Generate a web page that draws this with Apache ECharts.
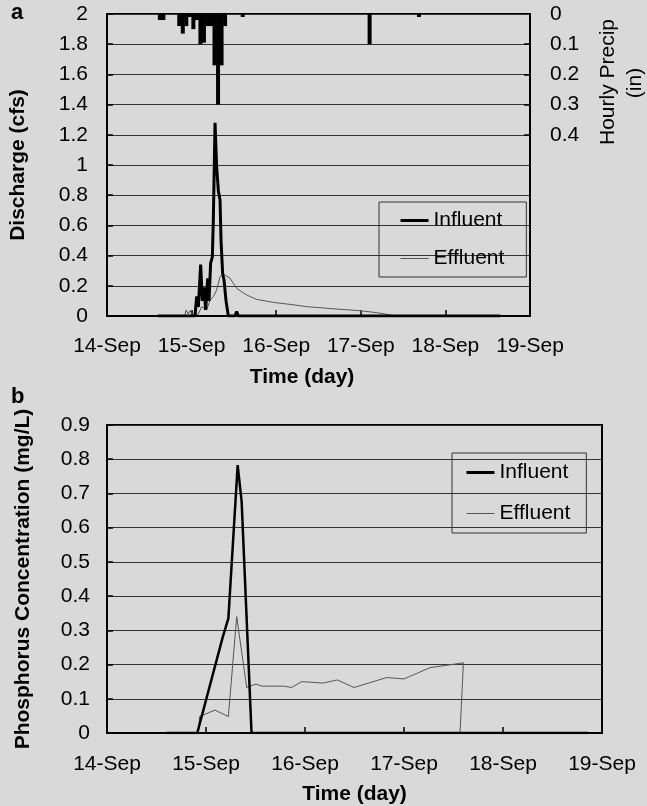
<!DOCTYPE html>
<html>
<head>
<meta charset="utf-8">
<script src="https://cdn.jsdelivr.net/npm/echarts@6/dist/echarts.min.js"></script>
<style>
  html, body { margin: 0; padding: 0; background: #d9d9d9; }
  #chart { width: 647px; height: 806px; }
</style>
</head>
<body>
<div id="chart"></div>
<script>
// x axis: days after 14-Sep 00:00
const dayLabels = ['14-Sep', '15-Sep', '16-Sep', '17-Sep', '18-Sep', '19-Sep'];

// hourly precipitation (hours after 14-Sep 00:00, inches)
const precipHour = [15, 16, 20.5, 21.5, 22.5, 23.5, 24.5, 25.5, 26.5, 27.5, 28.5, 29.5, 30.5, 31.5, 32.5, 33.5, 38.5, 74.5, 88.5];
const precipIn = [0.02, 0.02, 0.04, 0.065, 0.04, 0.01, 0.05, 0.02, 0.10, 0.095, 0.04, 0.04, 0.17, 0.30, 0.17, 0.04, 0.01, 0.10, 0.01];

// discharge [day, cfs]
const qInfluent = [
  [0.6, 0], [1.04, 0], [1.06, 0.13], [1.08, 0.06], [1.107, 0.34], [1.127, 0.1], [1.147, 0.19],
  [1.166, 0.04], [1.19, 0.25], [1.206, 0.1], [1.225, 0.35], [1.245, 0.39], [1.257, 0.64],
  [1.277, 1.28], [1.296, 0.99], [1.316, 0.83], [1.336, 0.77], [1.348, 0.5], [1.367, 0.28],
  [1.383, 0.24], [1.407, 0.1], [1.434, 0], [1.513, 0], [1.533, 0.03], [1.552, 0], [4.65, 0]
];
const qEffluent = [
  [0.6, 0], [0.92, 0], [0.934, 0.04], [0.961, 0.013], [0.981, 0.035], [1.013, 0.005], [1.08, 0.013],
  [1.119, 0.062], [1.178, 0.04], [1.218, 0.106], [1.257, 0.128], [1.296, 0.172], [1.336, 0.26],
  [1.375, 0.278], [1.454, 0.25], [1.533, 0.183], [1.651, 0.139], [1.769, 0.11], [1.966, 0.09],
  [2.163, 0.077], [2.36, 0.062], [2.67, 0.048], [2.99, 0.035], [3.19, 0.022], [3.31, 0.011],
  [3.42, 0], [4.65, 0]
];

// phosphorus [day, mg/L]
const pInfluent = [
  [0.6, 0], [0.912, 0], [1.169, 0.28], [1.226, 0.335], [1.32, 0.783], [1.36, 0.676], [1.46, 0], [4.86, 0]
];
const pEffluent = [
  [0.6, 0], [0.923, 0], [0.935, 0.048], [1.09, 0.067], [1.226, 0.048], [1.31, 0.34], [1.411, 0.133],
  [1.505, 0.143], [1.563, 0.137], [1.781, 0.137], [1.865, 0.133], [1.966, 0.15], [2.185, 0.146],
  [2.326, 0.155], [2.495, 0.133], [2.825, 0.162], [3.0, 0.158], [3.263, 0.191], [3.6, 0.205],
  [3.566, 0], [4.86, 0]
];

const FONT = 'Liberation Sans, Arial, sans-serif';

let precipData = precipHour.map((h, i) => [h / 24, precipIn[i]]);

function xAxisFor(gridIndex, margin, namePad) {
  return {
    type: 'value',
    gridIndex: gridIndex,
    min: 0,
    max: 5,
    interval: 1,
    name: 'Time (day)',
    nameLocation: 'middle',
    nameGap: 51,
    nameTextStyle: { fontSize: 21, fontWeight: 'bold', color: '#000', fontFamily: FONT, padding: namePad },
    axisLine: { lineStyle: { color: '#000', width: 2 } },
    axisTick: { inside: true, length: 6, lineStyle: { color: '#000', width: 1.5 } },
    axisLabel: { margin: margin, fontSize: 21, color: '#000', fontFamily: FONT, formatter: v => dayLabels[v] },
    splitLine: { show: false }
  };
}

// 图例：只画线，不画符号
function legendAt(left, top, padding, gap) {
  return {
    data: ['Influent', 'Effluent'], orient: 'vertical', left: left, top: top,
    padding: padding, itemGap: gap, itemWidth: 28, itemHeight: 14,
    borderColor: '#333', borderWidth: 1,
    itemStyle: { opacity: 0 },
    lineStyle: { width: 'inherit' },
    textStyle: { fontSize: 21, color: '#000', fontFamily: FONT }
  };
}

let chart = echarts.init(document.getElementById('chart'));
let option = {
  animation: false,
  backgroundColor: '#d9d9d9',
  textStyle: { fontFamily: FONT },
  grid: [
    { left: 107, top: 14, width: 423, height: 302, show: true, borderColor: '#000', borderWidth: 2 },
    { left: 107, top: 425, width: 495, height: 308, show: true, borderColor: '#000', borderWidth: 2 }
  ],
  xAxis: [xAxisFor(0, 20, [0, 33, 0, 0]), xAxisFor(1, 21, 0)],
  yAxis: [
    {
      type: 'value', gridIndex: 0, min: 0, max: 2, interval: 0.2,
      name: 'Discharge (cfs)', nameLocation: 'middle', nameRotate: 90, nameGap: 78,
      nameTextStyle: { fontSize: 21, fontWeight: 'bold', color: '#000', fontFamily: FONT },
      axisLine: { show: true, lineStyle: { color: '#000', width: 2 } },
      axisTick: { show: true, inside: true, length: 6, lineStyle: { color: '#000', width: 1.5 } },
      axisLabel: { margin: 19, fontSize: 21, color: '#000', fontFamily: FONT },
      splitLine: { lineStyle: { color: '#333', width: 1 } }
    },
    {
      type: 'value', gridIndex: 0, min: 0, max: 1, interval: 0.1, inverse: true, position: 'right',
      axisLine: { show: true, lineStyle: { color: '#000', width: 2 } },
      axisTick: { show: true, inside: true, length: 6, customValues: [0.1, 0.2, 0.3, 0.4], lineStyle: { color: '#000', width: 1.5 } },
      axisLabel: { margin: 20, fontSize: 21, color: '#000', fontFamily: FONT, customValues: [0, 0.1, 0.2, 0.3, 0.4] },
      splitLine: { show: false }
    },
    {
      type: 'value', gridIndex: 1, min: 0, max: 0.9, interval: 0.1,
      name: 'Phosphorus Concentration (mg/L)', nameLocation: 'middle', nameRotate: 90, nameGap: 73,
      nameTextStyle: { fontSize: 21, fontWeight: 'bold', color: '#000', fontFamily: FONT },
      axisLine: { show: true, lineStyle: { color: '#000', width: 2 } },
      axisTick: { show: true, inside: true, length: 6, lineStyle: { color: '#000', width: 1.5 } },
      axisLabel: { margin: 17, fontSize: 21, color: '#000', fontFamily: FONT },
      splitLine: { lineStyle: { color: '#333', width: 1 } }
    }
  ],
  legend: [
    legendAt(379, 202, [8, 22, 8, 20], 17),
    legendAt(452, 453, [9, 16, 9, 13], 20)
  ],
  series: [
    {
      name: 'Precip', type: 'bar', xAxisIndex: 0, yAxisIndex: 1,
      barWidth: 4, itemStyle: { color: '#000' }, data: precipData
    },
    {
      name: 'Effluent', type: 'line', xAxisIndex: 0, yAxisIndex: 0, symbol: 'none',
      itemStyle: { color: '#555' }, lineStyle: { color: '#555', width: 1 }, data: qEffluent
    },
    {
      name: 'Influent', type: 'line', xAxisIndex: 0, yAxisIndex: 0, symbol: 'none',
      itemStyle: { color: '#000' }, lineStyle: { color: '#000', width: 3 }, data: qInfluent
    },
    {
      name: 'Effluent', type: 'line', xAxisIndex: 1, yAxisIndex: 2, symbol: 'none',
      itemStyle: { color: '#555' }, lineStyle: { color: '#555', width: 1 }, data: pEffluent
    },
    {
      name: 'Influent', type: 'line', xAxisIndex: 1, yAxisIndex: 2, symbol: 'none',
      itemStyle: { color: '#000' }, lineStyle: { color: '#000', width: 2.5 }, data: pInfluent
    }
  ],
  graphic: [
    { type: 'text', left: 11, top: 2, style: { text: 'a', font: 'bold 22px ' + FONT, fill: '#000' } },
    { type: 'text', left: 11, top: 386, style: { text: 'b', font: 'bold 22px ' + FONT, fill: '#000' } },
    {
      type: 'text', x: 608, y: 82, rotation: Math.PI / 2,
      style: { text: 'Hourly Precip', font: '21px ' + FONT, fill: '#000', align: 'center', verticalAlign: 'middle' }
    },
    {
      type: 'text', x: 635, y: 83, rotation: Math.PI / 2,
      style: { text: '(in)', font: '21px ' + FONT, fill: '#000', align: 'center', verticalAlign: 'middle' }
    }
  ]
};
chart.setOption(option);
</script>
</body>
</html>
